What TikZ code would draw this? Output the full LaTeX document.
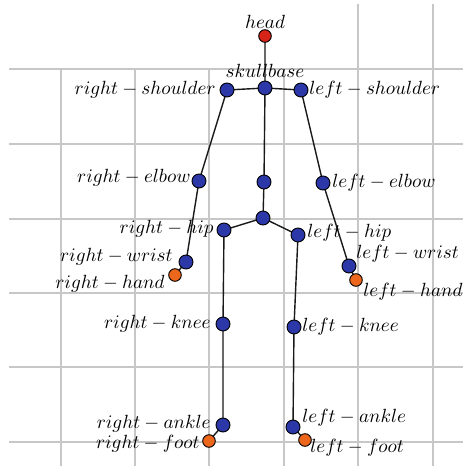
\documentclass[tikz,border=0pt]{standalone}
\definecolor{jblue}{RGB}{44,56,168}
\definecolor{jred}{RGB}{214,36,24}
\definecolor{jorange}{RGB}{236,102,28}
\pgfdeclarelayer{gridlayer}
\pgfdeclarelayer{bonelayer}
\pgfsetlayers{gridlayer,bonelayer,main}
\begin{document}
\begin{tikzpicture}[x=0.5pt,y=-0.5pt,
  jb/.style={circle,draw=black,line width=0.45pt,fill=jblue,minimum size=7pt,inner sep=0pt},
  jo/.style={jb,fill=jorange,minimum size=6.3pt},
  jr/.style={jb,fill=jred,minimum size=6.3pt},
  lab/.style={inner sep=0pt,text=black,scale=0.955},
  bone/.style={line width=0.7pt,draw=black!90},
  gridl/.style={line width=0.6pt,draw=black!22}]
\useasboundingbox (0,0) rectangle (463,466);
% joints
\node[jr] (head) at (265,36) {};
\node[jb] (skull) at (265,88) {};
\node[jb] (rsh) at (227,90) {};
\node[jb] (lsh) at (301,90) {};
\node[jb] (rel) at (199,181) {};
\node[jb] (spine) at (264,182) {};
\node[jb] (lel) at (323,183) {};
\node[jb] (pelvis) at (263,218) {};
\node[jb] (rhip) at (224,230) {};
\node[jb] (lhip) at (298,235) {};
\node[jb] (rwr) at (186,262) {};
\node[jo] (rha) at (175,275) {};
\node[jb] (lwr) at (349,266) {};
\node[jo] (lha) at (356,280) {};
\node[jb] (rkn) at (223,324) {};
\node[jb] (lkn) at (294,327) {};
\node[jb] (ran) at (223,425) {};
\node[jo] (rft) at (209,441) {};
\node[jb] (lan) at (293,427) {};
\node[jo] (lft) at (305,440) {};
% labels
\node[lab,anchor=south] (thead) at (265,29) {$head$};
\node[lab,anchor=south] (tskull) at (265,78) {$skullbase$};
\node[lab,anchor=east] (trsh) at (216,90) {$right-shoulder$};
\node[lab,anchor=west] (tlsh) at (309,90) {$left-shoulder$};
\node[lab,anchor=east] (trel) at (191,178) {$right-elbow$};
\node[lab,anchor=west] (tlel) at (332,183) {$left-elbow$};
\node[lab,anchor=east] (trhip) at (214,229) {$right-hip$};
\node[lab,anchor=west] (tlhip) at (307,233) {$left-hip$};
\node[lab,anchor=east] (trwr) at (173,257) {$right-wrist$};
\node[lab,anchor=west] (tlwr) at (356,254) {$left-wrist$};
\node[lab,anchor=east] (trha) at (165,284) {$right-hand$};
\node[lab,anchor=west] (tlha) at (363,292) {$left-hand$};
\node[lab,anchor=east] (trkn) at (211,324) {$right-knee$};
\node[lab,anchor=west] (tlkn) at (302,327) {$left-knee$};
\node[lab,anchor=east] (tran) at (211,424) {$right-ankle$};
\node[lab,anchor=west] (tlan) at (302,418) {$left-ankle$};
\node[lab,anchor=east] (trft) at (200,444) {$right-foot$};
\node[lab,anchor=west] (tlft) at (310,448) {$left-foot$};
% bones
\begin{pgfonlayer}{bonelayer}
\draw[bone] (head.center) -- (skull.center) -- (spine.center) -- (pelvis.center);
\draw[bone] (rsh.center) -- (skull.center) -- (lsh.center);
\draw[bone] (rsh.center) -- (rel.center) -- (rwr.center) -- (rha.center);
\draw[bone] (lsh.center) -- (lel.center) -- (lwr.center) -- (lha.center);
\draw[bone] (rhip.center) -- (pelvis.center) -- (lhip.center);
\draw[bone] (rhip.center) -- (rkn.center) -- (ran.center) -- (rft.center);
\draw[bone] (lhip.center) -- (lkn.center) -- (lan.center) -- (lft.center);
\end{pgfonlayer}
% grid
\begin{pgfonlayer}{gridlayer}
\foreach \y in {69,144,219,293,367,442} \draw[gridl] (9,\y) -- (463,\y);
\foreach \x in {61,135,209,284} \draw[gridl] (\x,69) -- (\x,466);
\foreach \x in {358,433} \draw[gridl] (\x,4) -- (\x,466);
\end{pgfonlayer}
\end{tikzpicture}
\end{document}
